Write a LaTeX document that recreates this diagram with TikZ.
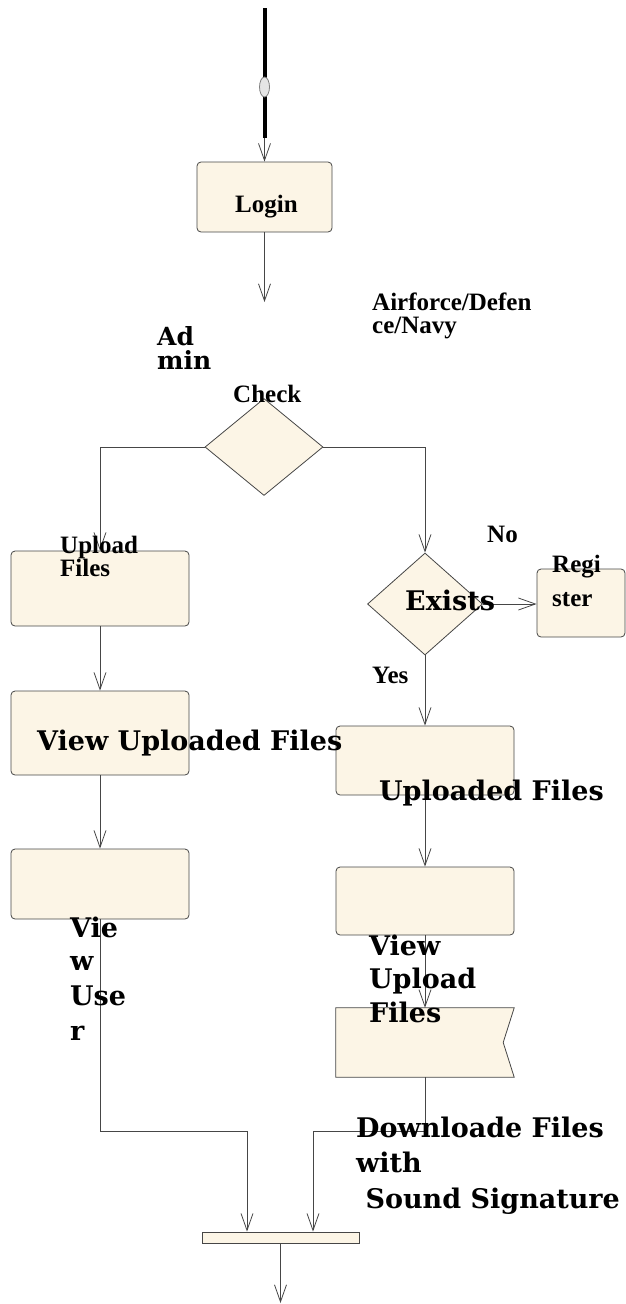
\documentclass[tikz,border=0pt]{standalone}
\usepackage{fontspec}
\usetikzlibrary{arrows.meta,shapes.geometric}
\newfontfamily\condfont{Liberation Serif}
\newfontfamily\widefont{DejaVu Serif}
\definecolor{boxfill}{RGB}{252,245,230}
\definecolor{linecol}{RGB}{70,70,70}
\begin{document}
\begin{tikzpicture}[x=1pt,y=-1pt,
  box/.style={draw=linecol, fill=boxfill, rounded corners=4pt, line width=0.8pt, inner sep=0pt},
  dia/.style={diamond, draw=linecol, fill=boxfill, line width=0.8pt, inner sep=0pt},
  ln/.style={draw=linecol, line width=0.8pt},
  arr/.style={draw=linecol, line width=0.8pt, -{Straight Barb[length=17pt,width=12pt]}},
  cond/.style={font=\condfont\bfseries\fontsize{25}{25}\selectfont, inner sep=0pt, anchor=base west},
  wide/.style={font=\widefont\bfseries\fontsize{27}{27}\selectfont, inner sep=0pt, anchor=base west},
  widesm/.style={font=\widefont\bfseries\fontsize{25}{25}\selectfont, inner sep=0pt, anchor=base west}]
\useasboundingbox (0,0) rectangle (626,1304);

% ---- shapes ----
\node[box, minimum width=135pt, minimum height=70pt] (login) at (264.5,197) {};
\node[dia, minimum width=118pt, minimum height=97pt] (check) at (264,447) {};
\node[box, minimum width=178pt, minimum height=75pt] (upload) at (100,588.5) {};
\node[box, minimum width=178pt, minimum height=84pt] (viewup) at (100,733) {};
\node[box, minimum width=178pt, minimum height=70pt] (viewuser) at (100,884) {};
\node[dia, minimum width=115pt, minimum height=102pt] (exists) at (425,604) {};
\node[box, minimum width=88pt, minimum height=68pt] (register) at (581,603) {};
\node[box, minimum width=178pt, minimum height=69pt] (uploaded) at (425,760.5) {};
\node[box, minimum width=178pt, minimum height=68pt] (viewupload) at (425,901) {};
\node[minimum width=178pt, minimum height=69pt, inner sep=0pt] (notch) at (425,1042.5) {};
\draw[ln, fill=boxfill] (notch.north west) -- (notch.north east) -- ([xshift=-11pt]notch.east)
  -- (notch.south east) -- (notch.south west) -- cycle;
\node[draw=linecol, fill=boxfill, line width=0.8pt, minimum width=157pt, minimum height=11pt, inner sep=0pt] (bar) at (280.5,1237.5) {};

% ---- start ----
\coordinate (start) at (264.5,8);
\coordinate (startend) at (264.5,138);
\draw[line width=4pt] (start) -- (startend);
\node[ellipse, draw=gray, fill=gray!20, line width=0.8pt, minimum width=10pt, minimum height=20pt, inner sep=0pt] (oval) at (264.5,87) {};
\draw[arr] (startend) -- (login.north);

% ---- connectors ----
\coordinate (loginout) at (264.5,302);
\draw[arr] (login.south) -- (loginout);
\draw[arr] (check.west) -| (upload.north);
\draw[arr] (check.east) -| (exists.north);
\draw[arr] (exists.east) -- (exists.east -| register.west);
\draw[arr] (exists.south) -- (uploaded.north);
\draw[arr] (uploaded.south) -- (viewupload.north);
\draw[arr] (viewupload.south) -- (notch.north);
\draw[arr] (upload.south) -- (viewup.north);
\draw[arr] (viewup.south) -- (viewuser.north);
\coordinate (jl) at (247,1131);
\coordinate (jr) at (313,1131);
\draw[arr] (viewuser.south) |- (jl) -- (jl |- bar.north);
\draw[arr] (notch.south) |- (jr) -- (jr |- bar.north);
\coordinate (endpt) at (280.5,1303);
\draw[arr] (bar.south) -- (endpt);

% ---- texts ----
\node[cond] (tlogin) at (235,212) {Login};
\node[cond] (taf1) at (372,310) {Airforce/Defen};
\node[cond] (taf2) at (372,333) {ce/Navy};
\node[widesm] (tad1) at (157,345) {Ad};
\node[widesm] (tad2) at (157,369) {min};
\node[cond] (tcheck) at (233,402) {Check};
\node[cond] (tup1) at (60,553) {Upload};
\node[cond] (tup2) at (60,576) {Files};
\node[cond] (tno) at (487,542) {No};
\node[cond] (treg1) at (552,572) {Regi};
\node[cond] (treg2) at (552,606) {ster};
\node[wide] (texists) at (405,610) {Exists};
\node[cond] (tyes) at (372,683) {Yes};
\node[wide] (tviewup) at (37,750) {View Uploaded Files};
\node[wide] (tuploaded) at (379,800) {Uploaded Files};
\node[wide] (tvu1) at (70,937) {Vie};
\node[wide] (tvu2) at (70,970) {w};
\node[wide] (tvu3) at (70,1005) {Use};
\node[wide] (tvu4) at (70,1040) {r};
\node[wide] (tvf1) at (369,955) {View};
\node[wide] (tvf2) at (369,988) {Upload};
\node[wide] (tvf3) at (369,1022) {Files};
\node[wide] (tdl1) at (356,1137) {Downloade Files};
\node[wide] (tdl2) at (356,1172) {with};
\node[wide] (tdl3) at (356,1208) {\ Sound Signature};
\end{tikzpicture}
\end{document}
